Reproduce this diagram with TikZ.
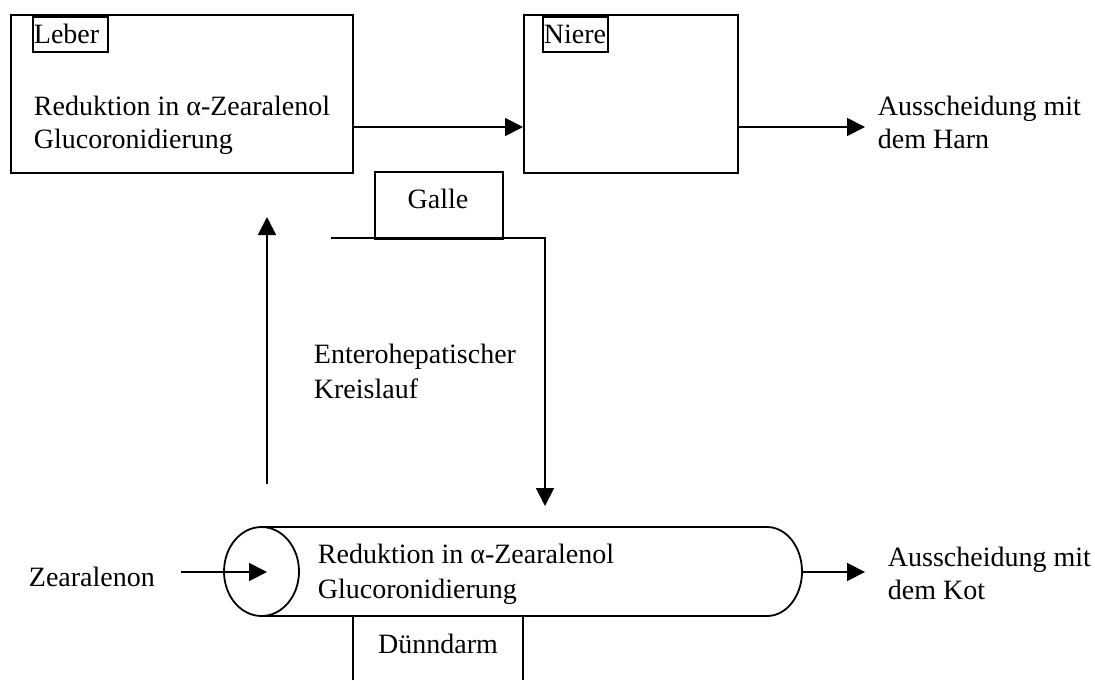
\documentclass[tikz,border=0pt]{standalone}
\usepackage{fontspec}
\setmainfont{Liberation Serif}
\usetikzlibrary{arrows.meta}
\begin{document}
\begin{tikzpicture}[x=0.5pt,y=-0.5pt, line width=0.9pt,
  box/.style={draw, rectangle, inner sep=0pt, anchor=north west},
  txt/.style={inner sep=0pt, anchor=base west, font=\fontsize{14}{16.5}\selectfont},
  arr/.style={-{Triangle[length=9pt,width=9pt]}}]
\useasboundingbox (0,0) rectangle (1095,680);
% Leber
\node[box, minimum width=171pt, minimum height=79pt] (leber) at (10,14) {};
\node[box, minimum width=37.5pt, minimum height=17.5pt] (lebertag) at (32,16) {};
\node[txt] (lebertxt) at (33,43) {Leber};
\node[txt] (leberl1) at (33,115) {Reduktion in α-Zearalenol};
\node[txt] (leberl2) at (33,148) {Glucoronidierung};
% Niere
\node[box, minimum width=107pt, minimum height=79pt] (niere) at (523,14) {};
\node[box, minimum width=32.5pt, minimum height=17.5pt] (nieretag) at (542,16) {};
\node[txt] (nieretxt) at (543,43) {Niere};
% Harn
\node[txt] (harn1) at (877,115) {Ausscheidung mit};
\node[txt] (harn2) at (877,148) {dem Harn};
\coordinate (y127) at (0,127);
\coordinate (harnend) at (865,127);
\draw[arr] (leber.east |- y127) -- (niere.west |- y127);
\draw[arr] (niere.east |- y127) -- (harnend);
% Galle
\node[box, minimum width=64pt, minimum height=33.5pt] (galle) at (374,171) {};
\node[txt, anchor=base] (galletxt) at (438,208) {Galle};
\coordinate (g1) at (331,238);
\coordinate (g2) at (545,238);
\coordinate (gend) at (545,506);
\draw[arr] (g1) -- (g2) -- (gend);
% enterohepatic up arrow
\coordinate (ustart) at (267,484);
\coordinate (uend) at (267,217);
\draw[arr] (ustart) -- (uend);
\node[txt] (ent1) at (313,363) {Enterohepatischer};
\node[txt] (ent2) at (313,398) {Kreislauf};
% Duenndarm cylinder
\draw (261.5,527) -- (767,527) arc[start angle=-90, end angle=90, x radius=35, y radius=44.5] -- (261.5,616);
\draw (261.5,571.5) ellipse [x radius=37.5, y radius=44.5];
\node[txt] (darm1) at (317,563) {Reduktion in α-Zearalenol};
\node[txt] (darm2) at (317,598) {Glucoronidierung};
\coordinate (zstart) at (181,572);
\coordinate (zend) at (267,572);
\node[txt] (zea) at (28,586) {Zearalenon};
\draw[arr] (zstart) -- (zend);
\coordinate (kstart) at (802,572);
\coordinate (kend) at (865,572);
\draw[arr] (kstart) -- (kend);
\node[txt] (kot1) at (887,566) {Ausscheidung mit};
\node[txt] (kot2) at (887,599) {dem Kot};
% Duenndarm label box (open at bottom)
\draw (353,680) -- (353,616) -- (523,616) -- (523,680);
\node[txt, anchor=base] (duenn) at (438,653) {Dünndarm};
\end{tikzpicture}
\end{document}
